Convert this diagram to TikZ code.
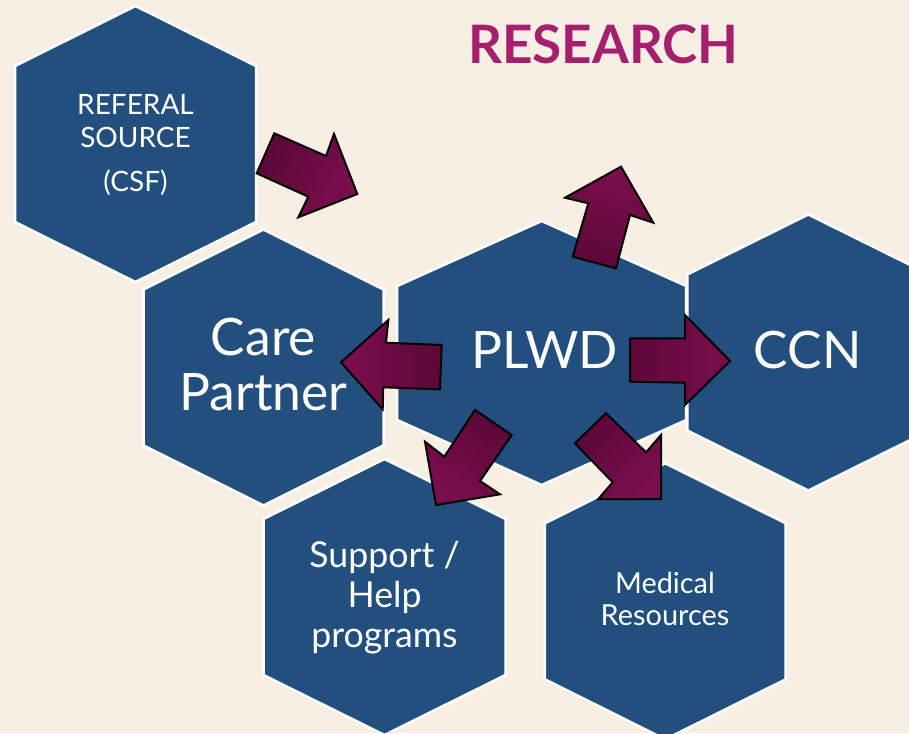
\documentclass[tikz,border=0pt]{standalone}
\usepackage{fontspec}
\setmainfont{Lato}
\usetikzlibrary{positioning}

\definecolor{paper}{RGB}{247,239,227}
\definecolor{hexblue}{RGB}{35,79,126}
\definecolor{plum}{RGB}{166,30,110}
\definecolor{arrdark}{RGB}{92,8,56}
\definecolor{arrlite}{RGB}{124,14,78}

\begin{document}
\begin{tikzpicture}[x=1pt,y=-1pt]
\tikzstyle{hexcell}=[fill=hexblue,draw=white,line width=2.5pt,line join=miter]
\tikzstyle{hextext}=[text=white,align=center,inner sep=0pt]
\tikzstyle{barrow}=[draw=black,line width=2pt,line join=miter,bottom color=arrdark,top color=arrlite]

\fill[paper] (0,0) rectangle (909,733);
\useasboundingbox (0,0) rectangle (909,733);

% hexagons
\draw[hexcell,shift={(135.5,144)}] (0,-138) -- (120.5,-78) -- (120.5,78) -- (0,138) -- (-120.5,78) -- (-120.5,-78) -- cycle;
\draw[hexcell,shift={(263.5,367.5)}] (0,-138) -- (120,-78) -- (120,78) -- (0,138) -- (-120,78) -- (-120,-78) -- cycle;
\draw[hexcell,shift={(541.7,353)}] (0,-132) -- (144.5,-67) -- (144.5,67) -- (0,132) -- (-144.5,67) -- (-144.5,-67) -- cycle;
\draw[hexcell,shift={(808.3,352.5)}] (0,-138) -- (121,-78) -- (121,78) -- (0,138) -- (-121,78) -- (-121,-78) -- cycle;
\draw[hexcell,shift={(384.5,597)}] (0,-138) -- (121,-78) -- (121,78) -- (0,138) -- (-121,78) -- (-121,-78) -- cycle;
\draw[hexcell,shift={(665.3,601.3)}] (0,-138) -- (120.4,-78) -- (120.4,78) -- (0,138) -- (-120.4,78) -- (-120.4,-78) -- cycle;

\node[hextext,font=\fontsize{28}{32.7}\selectfont] (ref) at (135.5,145) {REFERAL\\SOURCE\\[11.6pt](CSF)};
\node[hextext,font=\fontsize{51.6}{55.7}\selectfont] (care) at (263.5,364.5) {Care\\Partner};
\node[hextext,font=\fontsize{51.6}{55.7}\selectfont] (plwd) at (544.7,349.7) {PLWD};
\node[hextext,font=\fontsize{51.6}{55.7}\selectfont] (ccn) at (807.7,350) {CCN};
\node[hextext,font=\fontsize{35.7}{40}\selectfont] (help) at (384.5,598) {Support /\\Help\\programs};
\node[hextext,font=\fontsize{28.9}{32}\selectfont] (med) at (665,599) {Medical\\Resources};

\node[text=plum,font=\fontsize{53}{60}\selectfont\bfseries,anchor=base,inner sep=0pt] (research) at (603.3,64) {RESEARCH};

% block arrows
\draw[barrow,shading angle=-114] (274.3,133.3) -- (326,156) -- (334,134) -- (357.3,194) -- (298.3,217.3) -- (308.3,196.7) -- (256.7,173.3) -- cycle;
\draw[barrow,shading angle=-16] (621,166.7) -- (653.3,222.7) -- (630,215) -- (616,268.3) -- (572.7,256.7) -- (588.3,203.3) -- (565,197.7) -- cycle;
\draw[barrow,shading angle=90] (341,362.3) -- (388.3,320) -- (386,342.7) -- (441.7,345) -- (440,389.3) -- (383.3,387.3) -- (382.7,409.3) -- cycle;
\draw[barrow,shading angle=-90] (630,338.3) -- (685,338.3) -- (685,315) -- (730,361) -- (685,405) -- (685,382.7) -- (630,381.7) -- cycle;
\draw[barrow,shading angle=145] (475,410) -- (511.7,435) -- (480,481) -- (500,494.3) -- (436,505) -- (425,441.7) -- (444.3,456.7) -- cycle;
\draw[barrow,shading angle=-135] (606,413.3) -- (646,452.3) -- (661,435) -- (661,499) -- (598.3,499) -- (612.7,482.3) -- (575,443.3) -- cycle;
\end{tikzpicture}
\end{document}
